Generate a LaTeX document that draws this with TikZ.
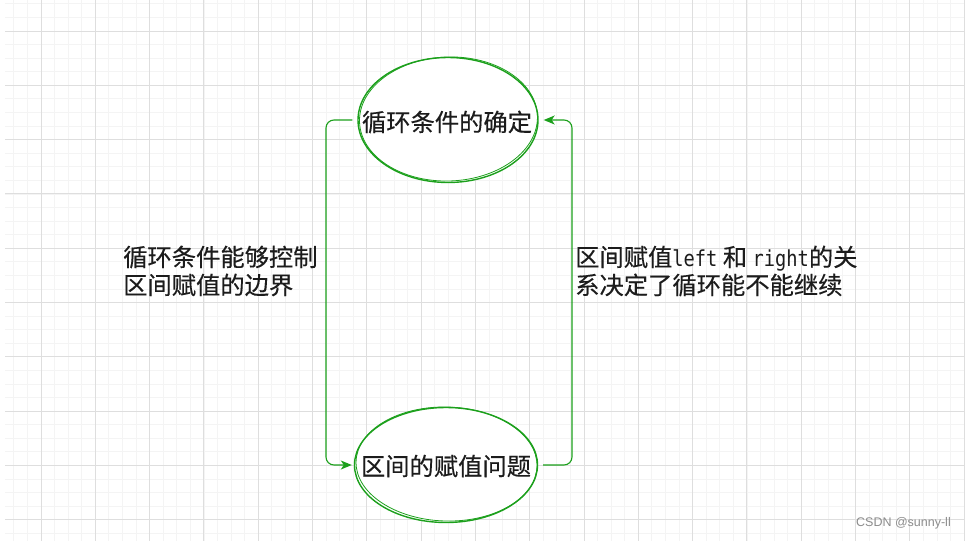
\documentclass[tikz,border=0pt]{standalone}
\usepackage{fontspec}
\setmainfont{Noto Sans CJK SC}[FakeBold=0.3]
\newfontfamily\wmfont{Liberation Sans}
\newfontfamily\latmono{DejaVu Sans Mono}[FakeStretch=0.85]
\newcommand{\lw}[1]{{\latmono\fontsize{22}{28}\selectfont #1}}
\usetikzlibrary{arrows.meta,shapes.geometric}
\definecolor{gmin}{RGB}{244,244,244}
\definecolor{gmaj}{RGB}{222,222,222}
\definecolor{lgreen}{RGB}{28,160,28}
\definecolor{txt}{RGB}{28,28,28}
\definecolor{wm}{RGB}{140,140,140}
\begin{document}
\begin{tikzpicture}[x=1pt,y=-1pt,
  bubble/.style={ellipse,draw=lgreen,line width=1.4pt,inner sep=0pt,fill=white},
  btext/.style={font=\fontsize{24.3}{28}\selectfont,text=txt,inner sep=0pt},
  conn/.style={draw=lgreen,line width=1.1pt,rounded corners=8pt},
  tipped/.style={-{Stealth[length=11pt,width=9pt,inset=3pt]}},
  lbl/.style={anchor=west,align=left,font=\fontsize{24.3}{28}\selectfont,text=txt,inner sep=0pt},
  sketch/.style={draw=lgreen,line width=0.8pt}]
\useasboundingbox (0,0) rectangle (966,541);
\fill[white] (0,0) rectangle (966,541);
% grid
\foreach \k in {-2,...,68}{\draw[gmin,line width=0.8pt] ({41+13.575*\k},0) -- ({41+13.575*\k},541);}
\foreach \k in {-2,...,37}{\draw[gmin,line width=0.8pt] (5,{31+13.575*\k}) -- (965,{31+13.575*\k});}
\foreach \k in {0,...,17}{\draw[gmaj,line width=0.9pt] ({41+54.3*\k},0) -- ({41+54.3*\k},541);}
\foreach \k in {0,...,9}{\draw[gmaj,line width=0.9pt] (5,{31+54.3*\k}) -- (965,{31+54.3*\k});}
% ellipses
\node[bubble,minimum width=180pt,minimum height=125pt] (top) at (448,120) {};
\draw[sketch,rotate around={2:(448,120)}] (448.5,119) ellipse [x radius=89, y radius=62];
\node[btext] (toptext) at (447,122) {循环条件的确定};
\node[bubble,minimum width=183pt,minimum height=115pt] (bot) at (446,465) {};
\draw[sketch,rotate around={-1.5:(446,465)}] (446.5,464) ellipse [x radius=90.5, y radius=57];
\node[btext] (bottext) at (446,466) {区间的赋值问题};
% connectors
\coordinate (ls) at ([xshift=-5pt]top.west);
\coordinate (le) at ([xshift=-2pt]bot.west);
\coordinate (rs) at ([xshift=5pt]bot.east);
\coordinate (re) at ([xshift=5pt]top.east);
\draw[conn,tipped] (ls) -- (326,120) -- (326,465) -- (le);
\draw[conn,tipped] (rs) -- (572,465) -- (572,120) -- (re);
% labels
\node[lbl] (leftlbl) at (123,271) {循环条件能够控制\\区间赋值的边界};
\node[lbl] (rightlbl) at (575,271) {区间赋值\lw{left} 和 \lw{right}的关\\系决定了循环能不能继续};
\node[anchor=east,inner sep=0pt,text=wm,font=\wmfont\fontsize{12.5}{14}\selectfont] (wmk) at (951,523) {CSDN @sunny-ll};
\end{tikzpicture}
\end{document}
